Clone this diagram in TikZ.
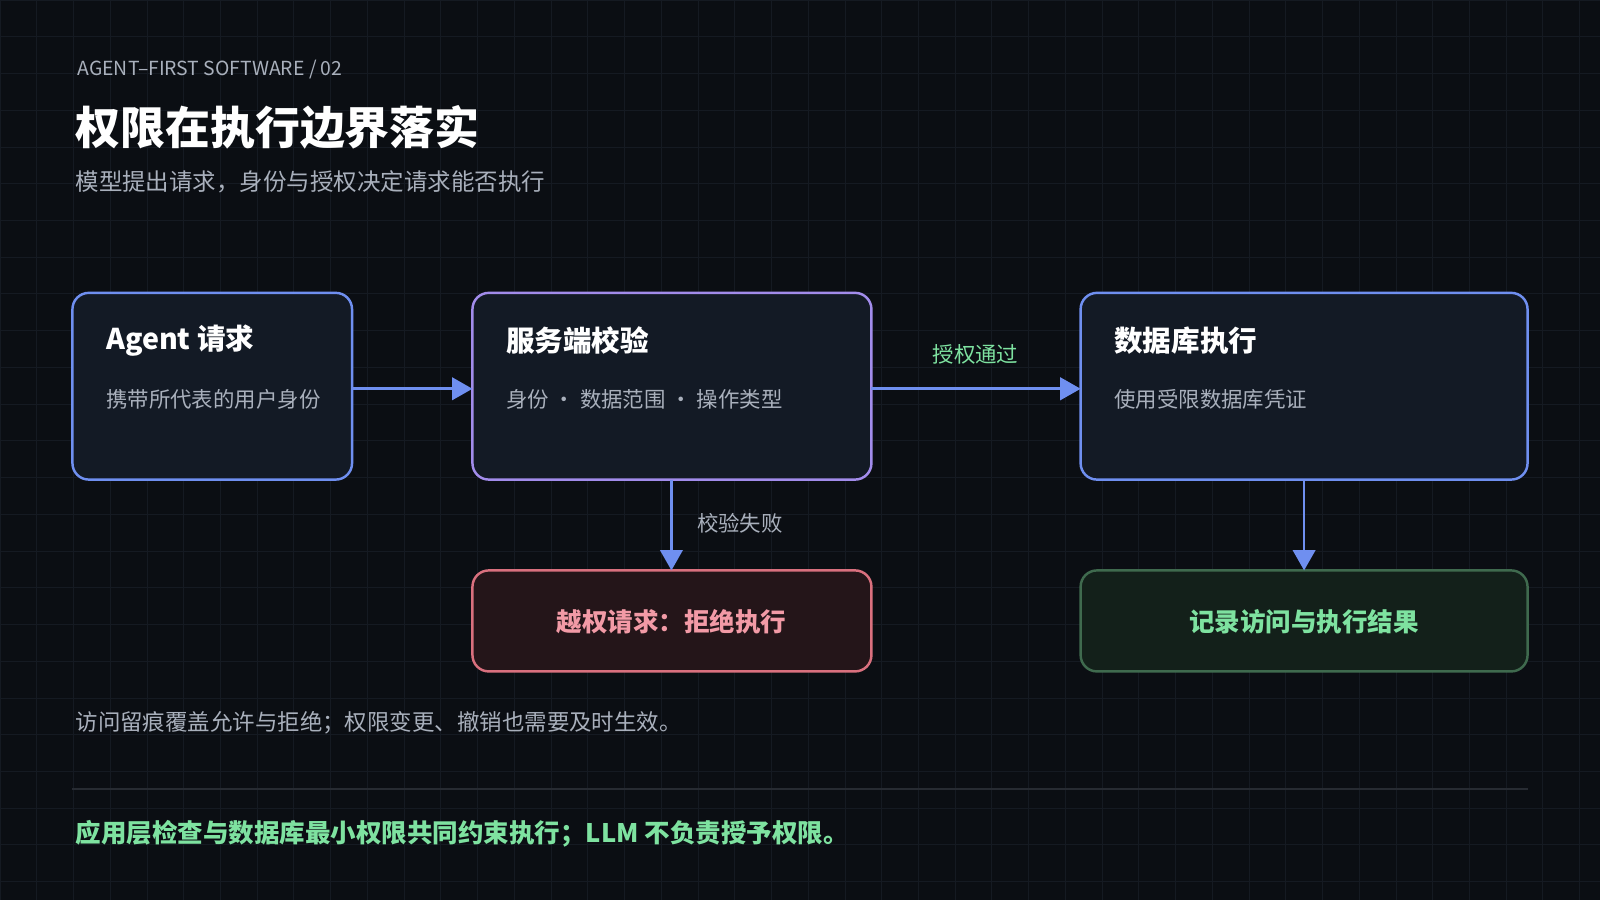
\documentclass[tikz,border=0pt]{standalone}
\usepackage{fontspec}
\setmainfont{Noto Sans CJK SC}
\newfontfamily\cjkb{Noto Sans CJK SC}[BoldFont={* Bold}]
\usetikzlibrary{arrows.meta}
\definecolor{bg}{HTML}{0B0E13}
\definecolor{boxbg}{HTML}{131A25}
\definecolor{blueb}{HTML}{6F8FF0}
\definecolor{purpb}{HTML}{A28CEB}
\definecolor{redb}{HTML}{D9707E}
\definecolor{redbg}{HTML}{241519}
\definecolor{greenb}{HTML}{3F6A4E}
\definecolor{greenbg}{HTML}{13201A}
\definecolor{greent}{HTML}{7EE2A0}
\definecolor{redt}{HTML}{F29AA6}
\definecolor{greyt}{HTML}{A9B0BC}
\definecolor{gridc}{HTML}{151A22}
\begin{document}
\begin{tikzpicture}[x=0.5pt,y=-0.5pt,
 box/.style={draw=blueb,line width=1.2pt,fill=boxbg,rounded corners=8pt},
 ttl/.style={anchor=west,text=white,font=\bfseries\fontsize{14}{16}\selectfont},
 sub/.style={anchor=west,text=greyt,font=\fontsize{10.5}{12}\selectfont},
 arr/.style={draw=blueb,line width=1.3pt,-{Triangle[length=10pt,width=11pt]}}]
\fill[bg] (0,0) rectangle (1568,882);
\useasboundingbox (0,0) rectangle (1568,882);
\foreach \i in {0,36,...,1568} \draw[gridc,line width=0.4pt] (\i,0)--(\i,882);
\foreach \j in {0,36,...,882} \draw[gridc,line width=0.4pt] (0,\j)--(1568,\j);
\node[anchor=west,text=greyt,font=\fontsize{9.5}{11}\selectfont] (hd) at (69,68) {AGENT–FIRST SOFTWARE / 02};
\node[anchor=west,text=white,font=\bfseries\fontsize{22}{26}\selectfont] (t) at (67,125) {权限在执行边界落实};
\node[anchor=west,text=greyt,font=\fontsize{11.5}{13}\selectfont] (st) at (67,178) {模型提出请求，身份与授权决定请求能否执行};
% boxes
\draw[box] (71,287) rectangle (345,470);
\draw[box,draw=purpb] (463,287) rectangle (854,470);
\draw[box] (1059,287) rectangle (1497,470);
\draw[box,draw=redb,fill=redbg] (463,559) rectangle (854,658);
\draw[box,draw=greenb,fill=greenbg] (1059,559) rectangle (1497,658);
\coordinate (b1r) at (345,381); \coordinate (b2l) at (463,381);
\coordinate (b2r) at (854,381); \coordinate (b3l) at (1059,381);
\coordinate (b2b) at (658,470); \coordinate (b4t) at (658,559);
\coordinate (b3b) at (1278,470); \coordinate (b5t) at (1278,559);
\node[ttl] (a1) at (97,334) {Agent 请求};
\node[sub] (a2) at (97,391) {携带所代表的用户身份};
\node[ttl] (c1) at (489,334) {服务端校验};
\node[sub] (c2) at (489,391) {身份 · 数据范围 · 操作类型};
\node[ttl] (d1) at (1085,334) {数据库执行};
\node[sub] (d2) at (1085,391) {使用受限数据库凭证};
\node[text=redt,font=\bfseries\fontsize{12.5}{14}\selectfont] (e) at (658,609) {越权请求：拒绝执行};
\node[text=greent,font=\bfseries\fontsize{12.5}{14}\selectfont] (f) at (1278,609) {记录访问与执行结果};
\draw[arr] (b1r)--(b2l);
\draw[arr] (b2r)--(b3l);
\draw[arr] (b2b)--(b4t);
\draw[arr] (b3b)--(b5t);
\node[text=greent,font=\fontsize{10.5}{12}\selectfont] (l1) at (956,347) {授权通过};
\node[text=greyt,font=\fontsize{10.5}{12}\selectfont,anchor=west] (l2) at (676,513) {校验失败};
\node[sub,font=\fontsize{11}{13}\selectfont] (n) at (67,708) {访问留痕覆盖允许与拒绝；权限变更、撤销也需要及时生效。};
\draw[gridc!60!greyt!40!bg,line width=1.2pt] (71,773)--(1497,773);
\node[anchor=west,text=greent,font=\bfseries\fontsize{12.5}{14}\selectfont] (ft) at (67,817) {应用层检查与数据库最小权限共同约束执行；LLM 不负责授予权限。};
\end{tikzpicture}
\end{document}
